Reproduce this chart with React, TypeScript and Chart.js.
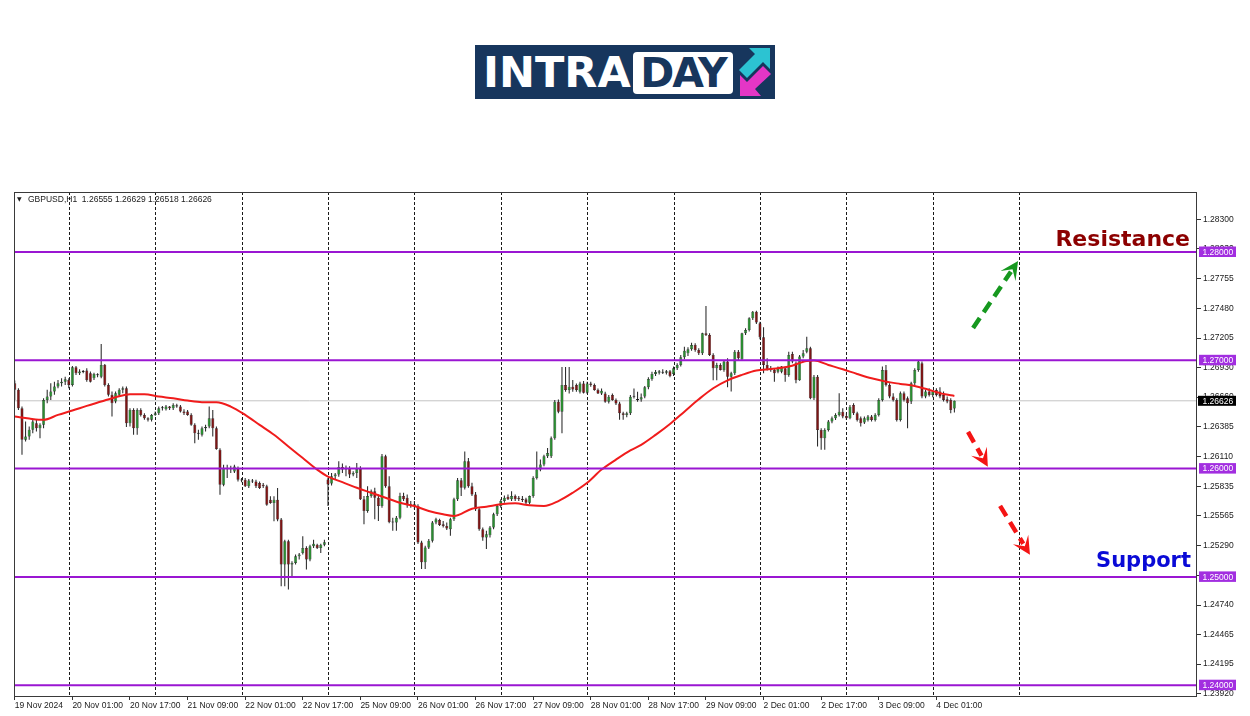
import React, { useEffect, useRef } from "react";
import { Chart, registerables } from "chart.js";

Chart.register(...registerables);

// ---------------- DATA ----------------
const symbolInfo = "GBPUSD,H1  1.26555 1.26629 1.26518 1.26626";

const opens = [
  1.26788, 1.26727, 1.26558, 1.26266, 1.26296, 1.26358, 1.26419, 1.26373, 1.26404, 1.26634,
  1.26665, 1.26711, 1.26757, 1.26788, 1.26803, 1.26819, 1.26773, 1.26935, 1.2688, 1.26896,
  1.26905, 1.2688, 1.26834, 1.26865, 1.26849, 1.26957, 1.26773, 1.26681, 1.26619, 1.26681,
  1.26727, 1.26742, 1.26419, 1.26542, 1.26373, 1.26542, 1.26496, 1.26465, 1.2645, 1.26496,
  1.26512, 1.26558, 1.26548, 1.26573, 1.26558, 1.26585, 1.26573, 1.26527, 1.26527, 1.26496,
  1.26404, 1.26327, 1.26312, 1.26373, 1.26389, 1.26465, 1.26373, 1.26174, 1.25851, 1.26005,
  1.25995, 1.25974, 1.26005, 1.25897, 1.25897, 1.25836, 1.25891, 1.25882, 1.25866, 1.25851,
  1.25836, 1.25713, 1.25682, 1.25713, 1.25529, 1.25114, 1.25329, 1.25114, 1.25129, 1.25191,
  1.25221, 1.25267, 1.2516, 1.25283, 1.25298, 1.25267, 1.25298, 1.25899, 1.25862, 1.2593,
  1.25945, 1.26015, 1.25991, 1.26006, 1.25945, 1.2596, 1.25997, 1.25716, 1.25609, 1.25746,
  1.25792, 1.25731, 1.25654, 1.26113, 1.25838, 1.25508, 1.25502, 1.25547, 1.25746, 1.25731,
  1.2567, 1.25654, 1.25654, 1.25318, 1.25135, 1.25272, 1.25333, 1.25502, 1.25526, 1.25486,
  1.25471, 1.2544, 1.25532, 1.25716, 1.25893, 1.25823, 1.26067, 1.25838, 1.25761, 1.25624,
  1.2544, 1.25364, 1.25385, 1.25456, 1.25578, 1.25654, 1.257, 1.2574, 1.25716, 1.25746,
  1.25731, 1.25722, 1.25716, 1.25685, 1.25746, 1.25914, 1.25991, 1.26037, 1.26113, 1.26113,
  1.26281, 1.26618, 1.26526, 1.26771, 1.26725, 1.26755, 1.26771, 1.26709, 1.26786, 1.267,
  1.26786, 1.26771, 1.26725, 1.26694, 1.26694, 1.26618, 1.26679, 1.26633, 1.26602, 1.26511,
  1.26495, 1.26511, 1.26664, 1.26633, 1.26639, 1.26665, 1.26751, 1.26828, 1.26874, 1.26886,
  1.26895, 1.26886, 1.26898, 1.26874, 1.26926, 1.26957, 1.27028, 1.27065, 1.27102, 1.27141,
  1.27095, 1.27065, 1.27249, 1.27234, 1.27049, 1.26926, 1.26957, 1.26911, 1.26988, 1.26849,
  1.2688, 1.2708, 1.27009, 1.27249, 1.2728, 1.27388, 1.27449, 1.27341, 1.27212, 1.26957,
  1.26926, 1.26911, 1.26895, 1.26895, 1.26926, 1.26865, 1.27058, 1.26972, 1.26815, 1.27034,
  1.2708, 1.27111, 1.26649, 1.26849, 1.26357, 1.2628, 1.26357, 1.26434, 1.26465, 1.26496,
  1.26526, 1.26486, 1.26465, 1.26588, 1.26511, 1.26465, 1.26425, 1.26449, 1.2648, 1.26449,
  1.26496, 1.26634, 1.26911, 1.26772, 1.26665, 1.26634, 1.26449, 1.26695, 1.26649, 1.26619,
  1.26788, 1.26911, 1.26972, 1.26665, 1.26711, 1.2668, 1.26726, 1.26711, 1.2668, 1.2664,
  1.26634, 1.26555,
];

const highs = [
  1.26813, 1.26742, 1.26573, 1.26435, 1.26389, 1.2645, 1.2645, 1.26419, 1.2665, 1.26727,
  1.26788, 1.26803, 1.26819, 1.26834, 1.26849, 1.26834, 1.26948, 1.26948, 1.26917, 1.26911,
  1.26926, 1.26896, 1.26886, 1.2688, 1.27151, 1.26966, 1.26788, 1.26711, 1.26711, 1.26742,
  1.26757, 1.26757, 1.26558, 1.26558, 1.26558, 1.26558, 1.26512, 1.26475, 1.26505, 1.26527,
  1.26573, 1.26579, 1.26588, 1.26579, 1.26604, 1.26598, 1.26588, 1.26548, 1.26542, 1.26512,
  1.26419, 1.26358, 1.26389, 1.26404, 1.26573, 1.26542, 1.26389, 1.26189, 1.26035, 1.26035,
  1.26026, 1.26035, 1.2602, 1.25913, 1.25913, 1.25903, 1.25903, 1.25897, 1.25882, 1.25866,
  1.25851, 1.25744, 1.25744, 1.2582, 1.25544, 1.25344, 1.25344, 1.25145, 1.25206, 1.25221,
  1.25375, 1.25283, 1.25298, 1.25344, 1.25307, 1.25307, 1.25344, 1.25914, 1.2596, 1.2596,
  1.26067, 1.26046, 1.26028, 1.26021, 1.25976, 1.26052, 1.26021, 1.25746, 1.25838, 1.25807,
  1.25823, 1.25761, 1.26135, 1.26128, 1.2593, 1.25547, 1.25563, 1.25777, 1.25777, 1.25761,
  1.257, 1.257, 1.2567, 1.25333, 1.25287, 1.25349, 1.25517, 1.25547, 1.25538, 1.25517,
  1.25502, 1.25547, 1.25731, 1.25914, 1.25914, 1.26159, 1.26098, 1.25869, 1.25783, 1.25639,
  1.25456, 1.25425, 1.25471, 1.25593, 1.2567, 1.25716, 1.25752, 1.25761, 1.25792, 1.25761,
  1.25746, 1.25746, 1.25731, 1.25752, 1.2593, 1.26159, 1.26083, 1.26128, 1.2619, 1.26297,
  1.26633, 1.26639, 1.26939, 1.26939, 1.26939, 1.26817, 1.26786, 1.26801, 1.2681, 1.26801,
  1.26801, 1.26786, 1.2674, 1.2674, 1.26709, 1.26679, 1.26694, 1.26648, 1.26618, 1.26526,
  1.26526, 1.26679, 1.2674, 1.26709, 1.26694, 1.26763, 1.26843, 1.26895, 1.26911, 1.26911,
  1.26917, 1.26911, 1.26911, 1.26942, 1.26972, 1.27049, 1.27126, 1.2712, 1.27163, 1.27157,
  1.27111, 1.27255, 1.27501, 1.27249, 1.27065, 1.26978, 1.26972, 1.27003, 1.27018, 1.26895,
  1.27095, 1.27095, 1.27255, 1.27295, 1.27397, 1.27455, 1.27458, 1.27357, 1.27305, 1.27018,
  1.26948, 1.26926, 1.26942, 1.26948, 1.26942, 1.2708, 1.2708, 1.26988, 1.27049, 1.27095,
  1.27218, 1.27126, 1.26865, 1.26865, 1.26373, 1.26373, 1.26449, 1.2648, 1.26511, 1.26695,
  1.26557, 1.26511, 1.26588, 1.26603, 1.26526, 1.2648, 1.2648, 1.26496, 1.26496, 1.26511,
  1.26649, 1.26942, 1.26957, 1.26788, 1.26695, 1.26649, 1.26711, 1.26711, 1.26665, 1.26803,
  1.26926, 1.26997, 1.26988, 1.26726, 1.26742, 1.26726, 1.26742, 1.26751, 1.26711, 1.26665,
  1.26649, 1.26629,
];

const lows = [
  1.26634, 1.26542, 1.26128, 1.2625, 1.26266, 1.26327, 1.26343, 1.26281, 1.26373, 1.26604,
  1.26634, 1.26681, 1.26742, 1.26757, 1.26773, 1.26742, 1.26757, 1.26865, 1.26865, 1.2688,
  1.26803, 1.26794, 1.26819, 1.26843, 1.26834, 1.26757, 1.26665, 1.26481, 1.26604, 1.26665,
  1.26696, 1.26383, 1.26389, 1.26312, 1.26312, 1.26481, 1.2645, 1.26435, 1.26435, 1.26487,
  1.26496, 1.26536, 1.26536, 1.26542, 1.26542, 1.26561, 1.26518, 1.26496, 1.26487, 1.26395,
  1.26235, 1.26266, 1.26296, 1.26343, 1.26373, 1.26296, 1.26174, 1.25759, 1.25836, 1.25913,
  1.25959, 1.25959, 1.25882, 1.25873, 1.2583, 1.2582, 1.25866, 1.2582, 1.25811, 1.2582,
  1.25658, 1.25676, 1.25513, 1.25513, 1.24914, 1.24914, 1.24883, 1.24991, 1.25114, 1.2516,
  1.25206, 1.25068, 1.25145, 1.25267, 1.25258, 1.25221, 1.25283, 1.25654, 1.25844, 1.25899,
  1.25924, 1.2596, 1.2593, 1.25914, 1.2593, 1.25914, 1.2571, 1.25486, 1.25593, 1.25731,
  1.25532, 1.25517, 1.25639, 1.25823, 1.25495, 1.25425, 1.25425, 1.25532, 1.257, 1.25639,
  1.25639, 1.25624, 1.25303, 1.25073, 1.25073, 1.25257, 1.25318, 1.25486, 1.25471, 1.25456,
  1.25434, 1.25379, 1.25517, 1.257, 1.25746, 1.25807, 1.25823, 1.25746, 1.25609, 1.25425,
  1.25333, 1.25257, 1.25364, 1.2544, 1.25563, 1.25639, 1.25685, 1.2571, 1.257, 1.257,
  1.257, 1.25691, 1.2567, 1.2567, 1.25731, 1.25899, 1.25976, 1.26021, 1.26098, 1.26098,
  1.26266, 1.26511, 1.26327, 1.26709, 1.26694, 1.26709, 1.26709, 1.26694, 1.26694, 1.26688,
  1.26755, 1.26719, 1.26688, 1.26679, 1.26609, 1.26602, 1.26627, 1.26587, 1.2645, 1.2645,
  1.26474, 1.26495, 1.26648, 1.26618, 1.26618, 1.26649, 1.26732, 1.26812, 1.26854, 1.26868,
  1.26874, 1.26868, 1.26843, 1.26854, 1.26911, 1.26942, 1.27009, 1.2704, 1.27089, 1.2708,
  1.27049, 1.27049, 1.27225, 1.2704, 1.26815, 1.26815, 1.26905, 1.26895, 1.26751, 1.26711,
  1.26865, 1.27003, 1.26997, 1.27234, 1.27265, 1.27372, 1.27335, 1.27194, 1.2688, 1.26905,
  1.26895, 1.26803, 1.2688, 1.2688, 1.26803, 1.26849, 1.26972, 1.26788, 1.26812, 1.27018,
  1.27065, 1.2664, 1.26634, 1.26203, 1.26173, 1.26173, 1.26342, 1.26419, 1.26449, 1.2648,
  1.26465, 1.26449, 1.26456, 1.26496, 1.26434, 1.26388, 1.26412, 1.26434, 1.26434, 1.26434,
  1.2648, 1.26619, 1.26757, 1.26649, 1.26619, 1.26434, 1.26434, 1.26619, 1.26373, 1.26597,
  1.26772, 1.26895, 1.26649, 1.26649, 1.26665, 1.26659, 1.26665, 1.26649, 1.26619, 1.26603,
  1.26511, 1.26518,
];

const closes = [
  1.26727, 1.26558, 1.26266, 1.26296, 1.26358, 1.26435, 1.26373, 1.26404, 1.26634, 1.26665,
  1.26711, 1.26757, 1.26788, 1.26803, 1.26825, 1.26773, 1.26935, 1.2688, 1.26896, 1.26892,
  1.26819, 1.26803, 1.26874, 1.26862, 1.26957, 1.26773, 1.26681, 1.26604, 1.26696, 1.26727,
  1.26742, 1.26419, 1.26542, 1.26373, 1.26542, 1.26496, 1.26465, 1.2645, 1.26496, 1.26512,
  1.26558, 1.26558, 1.26573, 1.26558, 1.26588, 1.26573, 1.26527, 1.26512, 1.26496, 1.26404,
  1.26327, 1.26321, 1.26373, 1.26383, 1.26465, 1.26373, 1.2618, 1.25851, 1.26005, 1.25995,
  1.26005, 1.2602, 1.25897, 1.25891, 1.25836, 1.25891, 1.25882, 1.25836, 1.2582, 1.25836,
  1.25667, 1.25682, 1.25713, 1.25529, 1.25114, 1.25329, 1.25114, 1.25129, 1.25191, 1.25206,
  1.25267, 1.2516, 1.25283, 1.25307, 1.25267, 1.25298, 1.2532, 1.25853, 1.2593, 1.25945,
  1.26015, 1.25991, 1.26006, 1.25945, 1.2596, 1.25997, 1.25716, 1.25609, 1.25746, 1.25792,
  1.25731, 1.25654, 1.26113, 1.25838, 1.25508, 1.25502, 1.25547, 1.25746, 1.25716, 1.25661,
  1.25654, 1.2567, 1.25318, 1.25135, 1.25272, 1.25333, 1.25502, 1.25532, 1.2548, 1.25471,
  1.25446, 1.25532, 1.25716, 1.25893, 1.25823, 1.26067, 1.25838, 1.25761, 1.25624, 1.2544,
  1.25364, 1.25394, 1.25456, 1.25578, 1.25654, 1.257, 1.25731, 1.25716, 1.25746, 1.25716,
  1.25716, 1.2571, 1.25685, 1.25746, 1.25914, 1.25991, 1.26037, 1.26113, 1.26144, 1.26281,
  1.26618, 1.26526, 1.26771, 1.26725, 1.26755, 1.26731, 1.26725, 1.26786, 1.267, 1.26786,
  1.26771, 1.26725, 1.26694, 1.26719, 1.26618, 1.26664, 1.26633, 1.26602, 1.26511, 1.26495,
  1.26511, 1.26664, 1.2667, 1.26639, 1.26658, 1.26751, 1.26828, 1.26874, 1.26892, 1.26898,
  1.26886, 1.26898, 1.26854, 1.26926, 1.26957, 1.27028, 1.27089, 1.27102, 1.27141, 1.27095,
  1.27065, 1.27249, 1.27234, 1.27049, 1.26926, 1.26957, 1.26911, 1.26988, 1.26849, 1.2688,
  1.2708, 1.27018, 1.27249, 1.2728, 1.27388, 1.27449, 1.27348, 1.27212, 1.26957, 1.26917,
  1.26911, 1.2688, 1.26926, 1.26942, 1.26865, 1.27049, 1.26988, 1.26815, 1.27034, 1.27065,
  1.27111, 1.26649, 1.26849, 1.26357, 1.2628, 1.26357, 1.26434, 1.26465, 1.26496, 1.26526,
  1.2648, 1.26465, 1.26572, 1.26511, 1.26449, 1.26419, 1.26465, 1.2648, 1.26449, 1.26496,
  1.26634, 1.26911, 1.26772, 1.26665, 1.26634, 1.26449, 1.26695, 1.26634, 1.26603, 1.26788,
  1.26911, 1.26988, 1.26665, 1.26711, 1.2668, 1.26711, 1.2668, 1.26665, 1.26634, 1.26619,
  1.26542, 1.26626,
];

// moving average, read at sample bars
const maBars = [
  0, 4, 8, 12, 16, 20, 24, 28, 32, 36, 40, 44, 48, 52, 56, 60, 64, 68, 72, 76,
  80, 84, 87, 91, 95, 99, 103, 107, 111, 115, 119, 122, 127, 131, 135, 139, 143, 147, 151, 155,
  159, 163, 167, 171, 174, 178, 182, 186, 190, 194, 198, 202, 206, 210, 215, 220, 222, 226, 230, 234,
  238, 242, 246, 250, 254, 258, 261,
];
const maValues = [
  1.26481, 1.26462, 1.2645, 1.26496, 1.26536, 1.26579, 1.26619, 1.26659, 1.26687, 1.26687,
  1.26665, 1.2665, 1.26628, 1.26613, 1.26613, 1.26573, 1.26496, 1.26404, 1.26312, 1.26204,
  1.26097, 1.2599, 1.25926, 1.25875, 1.25823, 1.25777, 1.25731, 1.25685, 1.25654, 1.25609,
  1.25578, 1.25563, 1.2563, 1.25648, 1.2567, 1.25679, 1.25661, 1.25654, 1.257, 1.25777,
  1.25869, 1.25991, 1.26083, 1.26168, 1.26219, 1.26311, 1.26412, 1.26526, 1.2664, 1.26742,
  1.26815, 1.26865, 1.26905, 1.2692, 1.26942, 1.26994, 1.26997, 1.26957, 1.26917, 1.26874,
  1.26834, 1.26803, 1.26782, 1.26763, 1.26726, 1.26689, 1.26671,
];

const levels = [1.28, 1.27, 1.26, 1.25, 1.24];
const lastPrice = 1.26626;

const yTickValues = [
  1.2392, 1.24195, 1.24465, 1.2474, 1.25015, 1.2529, 1.25565, 1.25835, 1.2611,
  1.26385, 1.2666, 1.2693, 1.27205, 1.2748, 1.27755, 1.2803, 1.283,
];
const xTickBars = [0, 16, 32, 48, 64, 80, 96, 112, 128, 144, 160, 176, 192, 208, 224, 240, 256];
const xTickLabels = [
  "19 Nov 2024", "20 Nov 01:00", "20 Nov 17:00", "21 Nov 09:00", "22 Nov 01:00",
  "22 Nov 17:00", "25 Nov 09:00", "26 Nov 01:00", "26 Nov 17:00", "27 Nov 09:00",
  "28 Nov 01:00", "28 Nov 17:00", "29 Nov 09:00", "2 Dec 01:00", "2 Dec 17:00",
  "3 Dec 09:00", "4 Dec 01:00",
];
const separatorBars = [15, 39, 63, 87, 111, 135, 159, 183, 207, 231, 255, 279];

// annotation arrows (bar index, price)
const arrowFrom = [[266.2, 1.27299], [264.8, 1.26339], [273.7, 1.25656]];
const arrowTo = [[278.7, 1.27917], [270.3, 1.26016], [282.0, 1.25204]];
const arrowColors = ["#16981f", "#f41414", "#f41414"];

// ---------------- STYLE ----------------
const X_MIN = -0.22;
const X_MAX = 328.4;
const Y_MIN = 1.239003;
const Y_MAX = 1.28554;
const FONT = "'Liberation Sans', Arial, sans-serif";
const BULL = "#2a8c31";
const BEAR = "#7c1515";
const WICK = "#1e1e1e";
const PURPLE = "#9a16d2";
const PURPLE_BOX = "#a22ee0";

const mtPlugin = {
  id: "mt4",
  beforeDatasetsDraw(chart: any) {
    const { ctx, chartArea: a, scales } = chart;
    const xs = scales.x;
    ctx.save();
    ctx.strokeStyle = "#1a1a1a";
    ctx.lineWidth = 1;
    ctx.setLineDash([3, 2]);
    separatorBars.forEach((b) => {
      const px = Math.round(xs.getPixelForValue(b)) + 0.5;
      ctx.beginPath();
      ctx.moveTo(px, a.top);
      ctx.lineTo(px, a.bottom);
      ctx.stroke();
    });
    ctx.restore();
  },
  afterDatasetsDraw(chart: any) {
    const { ctx, scales } = chart;
    const xs = scales.x;
    const ys = scales.y;
    ctx.save();
    arrowFrom.forEach((f, i) => {
      const t = arrowTo[i];
      const x0 = xs.getPixelForValue(f[0]);
      const y0 = ys.getPixelForValue(f[1]);
      const x1 = xs.getPixelForValue(t[0]);
      const y1 = ys.getPixelForValue(t[1]);
      const dx = x1 - x0;
      const dy = y1 - y0;
      const len = Math.hypot(dx, dy);
      const ux = dx / len;
      const uy = dy / len;
      const nx = -uy;
      const ny = ux;
      const L = 18;
      const W = 9;
      const notchX = x1 - ux * L * 0.55;
      const notchY = y1 - uy * L * 0.55;
      ctx.strokeStyle = arrowColors[i];
      ctx.fillStyle = arrowColors[i];
      ctx.lineWidth = 4.5;
      ctx.lineCap = "butt";
      ctx.setLineDash([12, 7]);
      ctx.beginPath();
      ctx.moveTo(x0, y0);
      ctx.lineTo(notchX - ux * 3, notchY - uy * 3);
      ctx.stroke();
      ctx.setLineDash([]);
      ctx.beginPath();
      ctx.moveTo(x1, y1);
      ctx.lineTo(x1 - ux * L + nx * W, y1 - uy * L + ny * W);
      ctx.lineTo(notchX, notchY);
      ctx.lineTo(x1 - ux * L - nx * W, y1 - uy * L - ny * W);
      ctx.closePath();
      ctx.fill();
    });
    ctx.restore();
  },
  afterDraw(chart: any) {
    const { ctx, chartArea: a, scales } = chart;
    const ys = scales.y;
    ctx.save();
    // frame
    ctx.strokeStyle = "#3a3a3a";
    ctx.lineWidth = 1;
    ctx.strokeRect(a.left + 0.5, a.top + 0.5, a.right - a.left - 1, a.bottom - a.top);
    // level boxes
    ctx.font = `8.5px ${FONT}`;
    ctx.textBaseline = "middle";
    ctx.textAlign = "left";
    levels.forEach((lv) => {
      const py = ys.getPixelForValue(lv);
      ctx.fillStyle = PURPLE_BOX;
      ctx.fillRect(a.right + 2, py - 5.5, 37, 10.5);
      ctx.fillStyle = "#ffffff";
      ctx.fillText(lv.toFixed(5), a.right + 5.5, py + 0.5);
    });
    const pp = ys.getPixelForValue(lastPrice);
    ctx.fillStyle = "#000000";
    ctx.fillRect(a.right + 1, pp - 5, 38, 10);
    ctx.fillStyle = "#ffffff";
    ctx.fillText(lastPrice.toFixed(5), a.right + 5.5, pp + 0.5);

    // symbol info
    ctx.fillStyle = "#1a1a1a";
    ctx.font = `6px 'DejaVu Sans', sans-serif`;
    ctx.fillText("▼", a.left + 3, a.top + 7.5);
    ctx.font = `8.5px ${FONT}`;
    ctx.fillText(symbolInfo, a.left + 14, a.top + 7.5);

    // Resistance / Support labels
    ctx.textBaseline = "alphabetic";
    ctx.textAlign = "right";
    ctx.fillStyle = "#8c0000";
    ctx.font = `bold 22px 'DejaVu Sans', sans-serif`;
    ctx.fillText("Resistance", 1190, ys.getPixelForValue(1.28) - 6);
    ctx.fillStyle = "#0a0ad6";
    ctx.font = `bold 21px 'DejaVu Sans', sans-serif`;
    ctx.fillText("Support", 1191, ys.getPixelForValue(1.25) - 10);
    ctx.restore();
  },
};

function Logo() {
  return (
    <div
      style={{
        position: "absolute",
        left: 475,
        top: 45,
        width: 300,
        height: 54,
        background: "#17365d",
        overflow: "hidden",
      }}
    >
      <div
        style={{
          position: "absolute",
          left: 8,
          top: 0,
          height: 54,
          lineHeight: "54px",
          color: "#ffffff",
          fontFamily: "'DejaVu Sans', sans-serif",
          fontWeight: 700,
          fontSize: 43,
          letterSpacing: "0px",
          whiteSpace: "nowrap",
        }}
      >
        INTRA
      </div>
      <div
        style={{
          position: "absolute",
          left: 158,
          top: 7,
          width: 100,
          height: 42,
          background: "#ffffff",
          borderRadius: 4,
          overflow: "hidden",
        }}
      >
        <div
          style={{
            position: "absolute",
            left: 0,
            top: 0,
            width: 100,
            textAlign: "center",
            lineHeight: "42px",
            color: "#17365d",
            fontFamily: "'DejaVu Sans', sans-serif",
            fontWeight: 700,
            fontSize: 41,
            letterSpacing: "-2px",
            whiteSpace: "nowrap",
          }}
        >
          DAY
        </div>
      </div>
      <svg
        width={300}
        height={54}
        style={{ position: "absolute", left: 0, top: 0 }}
      >
        <polygon
          points="295,3 295,24 288,17 272,33 264,25 280,9 274,3"
          fill="#2cc3d2"
        />
        <polygon
          points="265,51 265,30 272,37 288,21 296,29 280,44 286,51"
          fill="#e436c6"
        />
      </svg>
    </div>
  );
}

export default function App() {
  const canvasRef = useRef<HTMLCanvasElement | null>(null);

  useEffect(() => {
    const canvas = canvasRef.current;
    if (!canvas) return;
    const idx = closes.map((_, i) => i);

    const levelSets = levels.map((lv) => ({
      type: "line" as const,
      data: [
        { x: X_MIN, y: lv },
        { x: X_MAX, y: lv },
      ],
      borderColor: PURPLE,
      borderWidth: 2,
      pointRadius: 0,
      order: 1,
    }));

    const chart = new Chart(canvas, {
      type: "bar",
      data: {
        datasets: [
          {
            type: "line",
            data: [
              { x: X_MIN, y: lastPrice },
              { x: X_MAX, y: lastPrice },
            ],
            borderColor: "#c4c4c4",
            borderWidth: 1,
            pointRadius: 0,
            order: 30,
          } as any,
          {
            type: "bar",
            data: idx.map((i) => ({ x: i, y: [lows[i], highs[i]] })),
            backgroundColor: WICK,
            barThickness: 1,
            grouped: false,
            inflateAmount: 0,
            borderWidth: 0,
            order: 20,
          } as any,
          {
            type: "bar",
            data: idx.map((i) => ({ x: i, y: [opens[i], closes[i]] })),
            backgroundColor: (c: any) =>
              closes[c.dataIndex] >= opens[c.dataIndex] ? BULL : BEAR,
            borderColor: "#1c1c1c",
            borderWidth: 0.5,
            borderSkipped: false,
            barThickness: 3,
            minBarLength: 1,
            grouped: false,
            inflateAmount: 0,
            order: 19,
          } as any,
          {
            type: "line",
            data: maBars.map((b, k) => ({ x: b, y: maValues[k] })),
            borderColor: "#f01c1c",
            borderWidth: 2,
            pointRadius: 0,
            tension: 0.4,
            cubicInterpolationMode: "monotone",
            order: 5,
          } as any,
          ...(levelSets as any[]),
        ],
      },
      options: {
        responsive: false,
        maintainAspectRatio: false,
        animation: false,
        events: [],
        layout: { padding: { left: 14, top: 192, right: 0, bottom: 0 } },
        plugins: {
          legend: { display: false },
          tooltip: { enabled: false },
          title: { display: false },
        },
        scales: {
          x: {
            type: "linear",
            min: X_MIN,
            max: X_MAX,
            offset: false,
            afterBuildTicks: (s: any) => {
              s.ticks = xTickBars.map((v) => ({ value: v }));
            },
            afterFit: (s: any) => {
              s.height = 20;
            },
            ticks: {
              autoSkip: false,
              maxRotation: 0,
              minRotation: 0,
              align: "start",
              padding: 1,
              color: "#1a1a1a",
              font: { family: FONT, size: 8.5 },
              callback: (_v: any, i: number) => xTickLabels[i] ?? "",
            },
            grid: {
              drawOnChartArea: false,
              drawTicks: true,
              tickLength: 4,
              color: "#333333",
              offset: false,
            },
            border: { display: false },
          } as any,
          y: {
            type: "linear",
            position: "right",
            min: Y_MIN,
            max: Y_MAX,
            afterBuildTicks: (s: any) => {
              s.ticks = yTickValues.map((v) => ({ value: v }));
            },
            afterFit: (s: any) => {
              s.width = 53;
            },
            ticks: {
              autoSkip: false,
              padding: 2,
              color: "#1a1a1a",
              font: { family: FONT, size: 8.5 },
              callback: (v: any) => Number(v).toFixed(5),
            },
            grid: {
              drawOnChartArea: false,
              drawTicks: true,
              tickLength: 4,
              color: "#333333",
            },
            border: { display: false },
          } as any,
        },
      },
      plugins: [mtPlugin],
    });

    return () => chart.destroy();
  }, []);

  return (
    <div
      style={{
        position: "absolute",
        left: 0,
        top: 0,
        width: 1250,
        height: 716,
        background: "#ffffff",
        overflow: "hidden",
      }}
    >
      <Logo />
      <canvas
        ref={canvasRef}
        width={1250}
        height={716}
        style={{ position: "absolute", left: 0, top: 0, width: 1250, height: 716 }}
      />
    </div>
  );
}
